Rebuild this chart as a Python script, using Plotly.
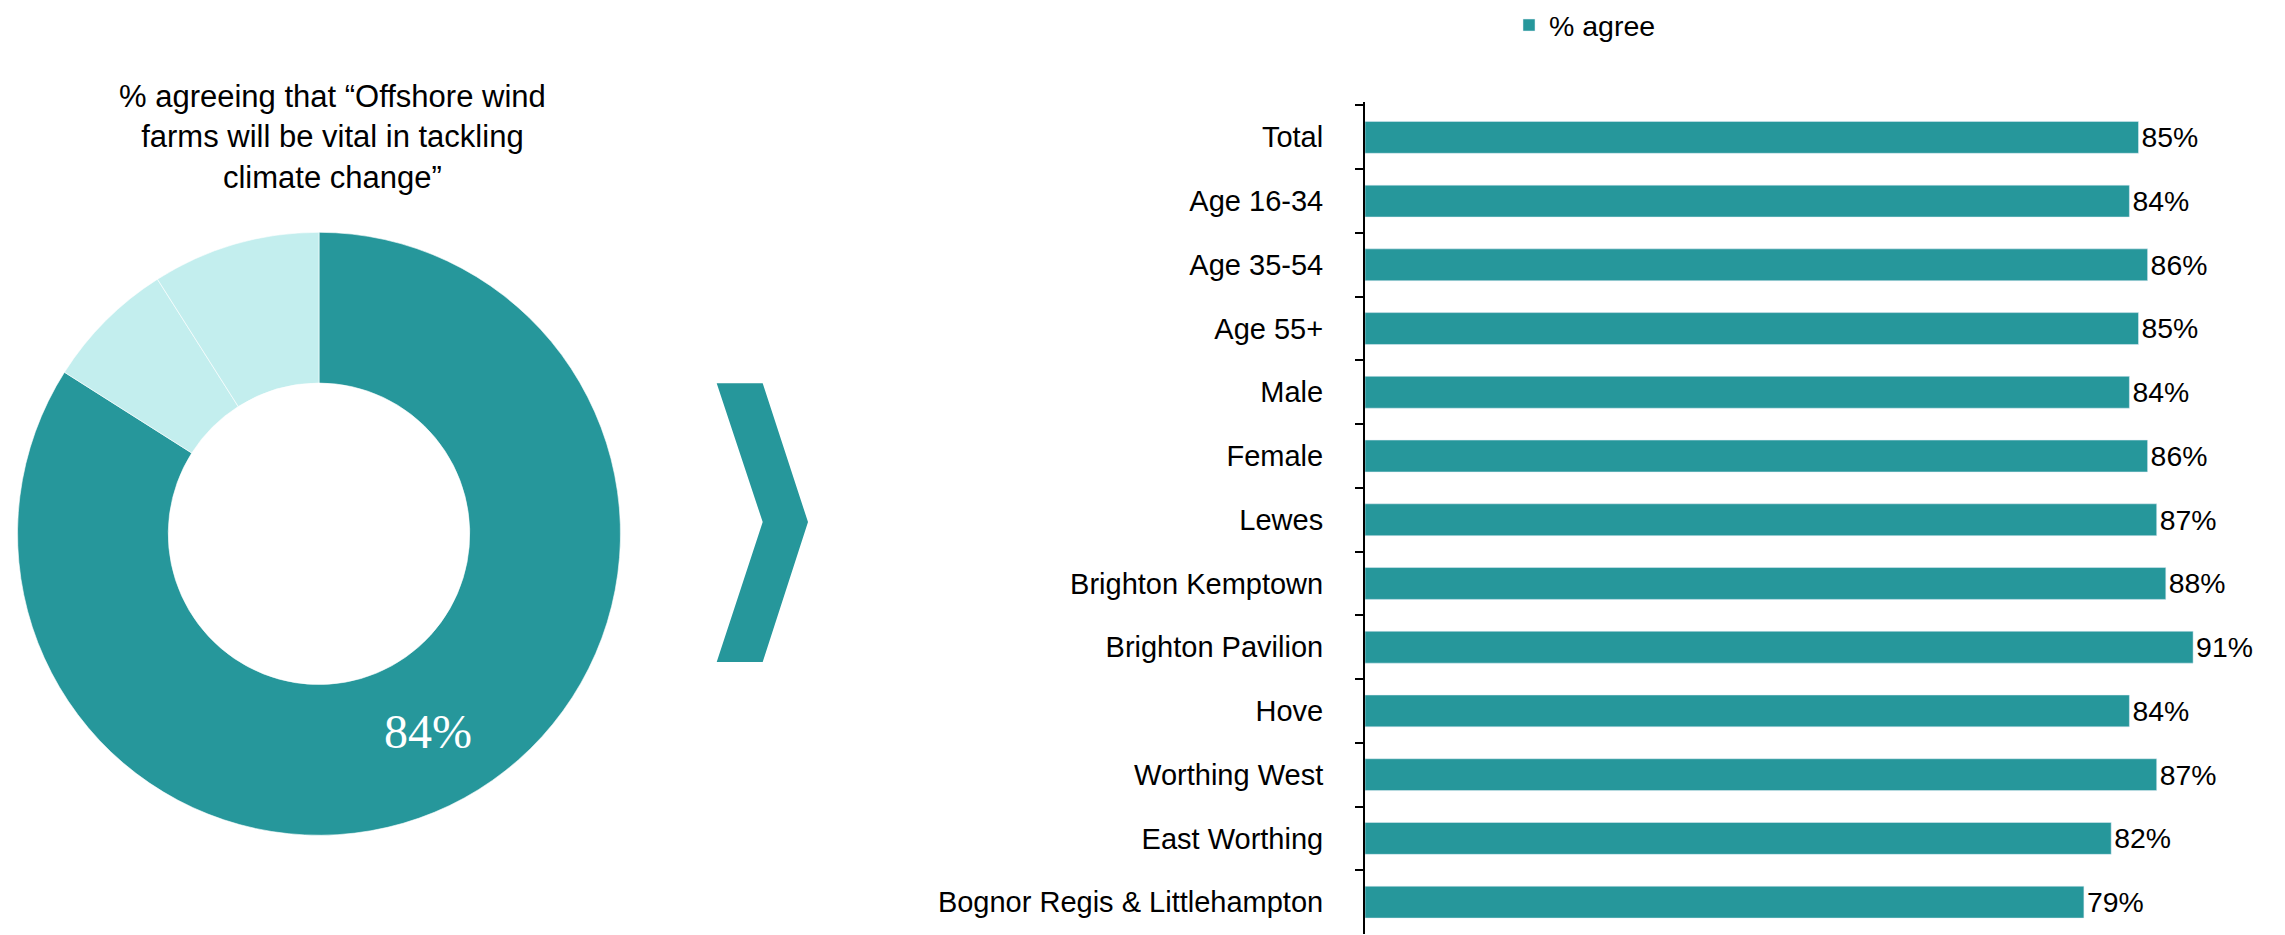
import plotly.graph_objects as go

# ---- data ----
donut_labels = ["Agree", "Disagree", "Don't know"]
donut_values = [84, 7, 9]
donut_text = ["84%", "", ""]
donut_title = "% agreeing that “Offshore wind<br>farms will be vital in tackling<br>climate change”"

categories = ["Total", "Age 16-34", "Age 35-54", "Age 55+", "Male", "Female", "Lewes",
              "Brighton Kemptown", "Brighton Pavilion", "Hove", "Worthing West",
              "East Worthing", "Bognor Regis & Littlehampton"]
agree_values = [85, 84, 86, 85, 84, 86, 87, 88, 91, 84, 87, 82, 79]
series_name = "% agree"

TEAL = "#26979B"
LIGHT = "#C3EEEE"
W, H = 2285, 935
SANS = "Liberation Sans, Arial, sans-serif"

def px(x):
    return x / W

def py(y):
    return 1 - y / H

fig = go.Figure()

fig.add_trace(go.Pie(
    labels=donut_labels, values=donut_values, text=donut_text,
    textinfo="text", hole=0.5, sort=False, direction="clockwise", rotation=0,
    marker=dict(colors=[TEAL, LIGHT, LIGHT], line=dict(color="white", width=0.6)),
    textposition="inside", insidetextorientation="horizontal",
    textfont=dict(family="Liberation Serif, Times New Roman, serif", size=48, color="white"),
    domain=dict(x=[px(15), px(623)], y=[py(834.5), py(227)]),
    showlegend=False, hoverinfo="label+value",
))

fig.add_trace(go.Bar(
    y=categories, x=agree_values, orientation="h", name=series_name,
    marker=dict(color=TEAL), width=0.5,
    texttemplate="%{x}%", textposition="outside", cliponaxis=False,
    textfont=dict(family=SANS, size=28.5, color="black"),
    showlegend=True,
))

n = len(categories)
fig.update_layout(
    width=W, height=H,
    margin=dict(l=0, r=0, t=0, b=0),
    paper_bgcolor="white", plot_bgcolor="white",
    font=dict(family=SANS, color="black", size=29),
    xaxis=dict(domain=[px(1365), px(2275)], range=[0, 100], visible=False, fixedrange=True),
    yaxis=dict(domain=[py(934), py(96)], range=[n - 0.5, -0.55], type="category",
               showline=True, linecolor="black", linewidth=2,
               ticks="outside", ticklen=8, tickwidth=2, tickcolor="black",
               tickson="boundaries", ticklabelstandoff=34,
               tickfont=dict(family=SANS, size=29, color="black"), showgrid=False,
               fixedrange=True),
    legend=dict(orientation="h", x=px(1509), xanchor="left", y=py(18.5), yanchor="middle",
                font=dict(family=SANS, size=28.5, color="black"), bgcolor="rgba(0,0,0,0)"),
    annotations=[dict(text=donut_title, x=px(332), y=py(131), xref="paper", yref="paper",
                      xanchor="center", yanchor="middle", showarrow=False, align="center",
                      font=dict(family=SANS, size=31, color="black"))],
    shapes=[dict(type="path", xref="paper", yref="paper",
                 path=(f"M {px(716.7)},{py(379)} L {px(762.7)},{py(379)} L {px(808)},{py(519)} "
                       f"L {px(762.7)},{py(660)} L {px(716.7)},{py(660)} L {px(762.7)},{py(519)} Z"),
                 fillcolor=TEAL, line=dict(width=0))],
)

fig.write_html("out.html",
               config={"displayModeBar": False},
               post_script="document.body.style.margin='0';document.body.style.padding='0';"
                           "document.body.style.overflow='hidden';")
